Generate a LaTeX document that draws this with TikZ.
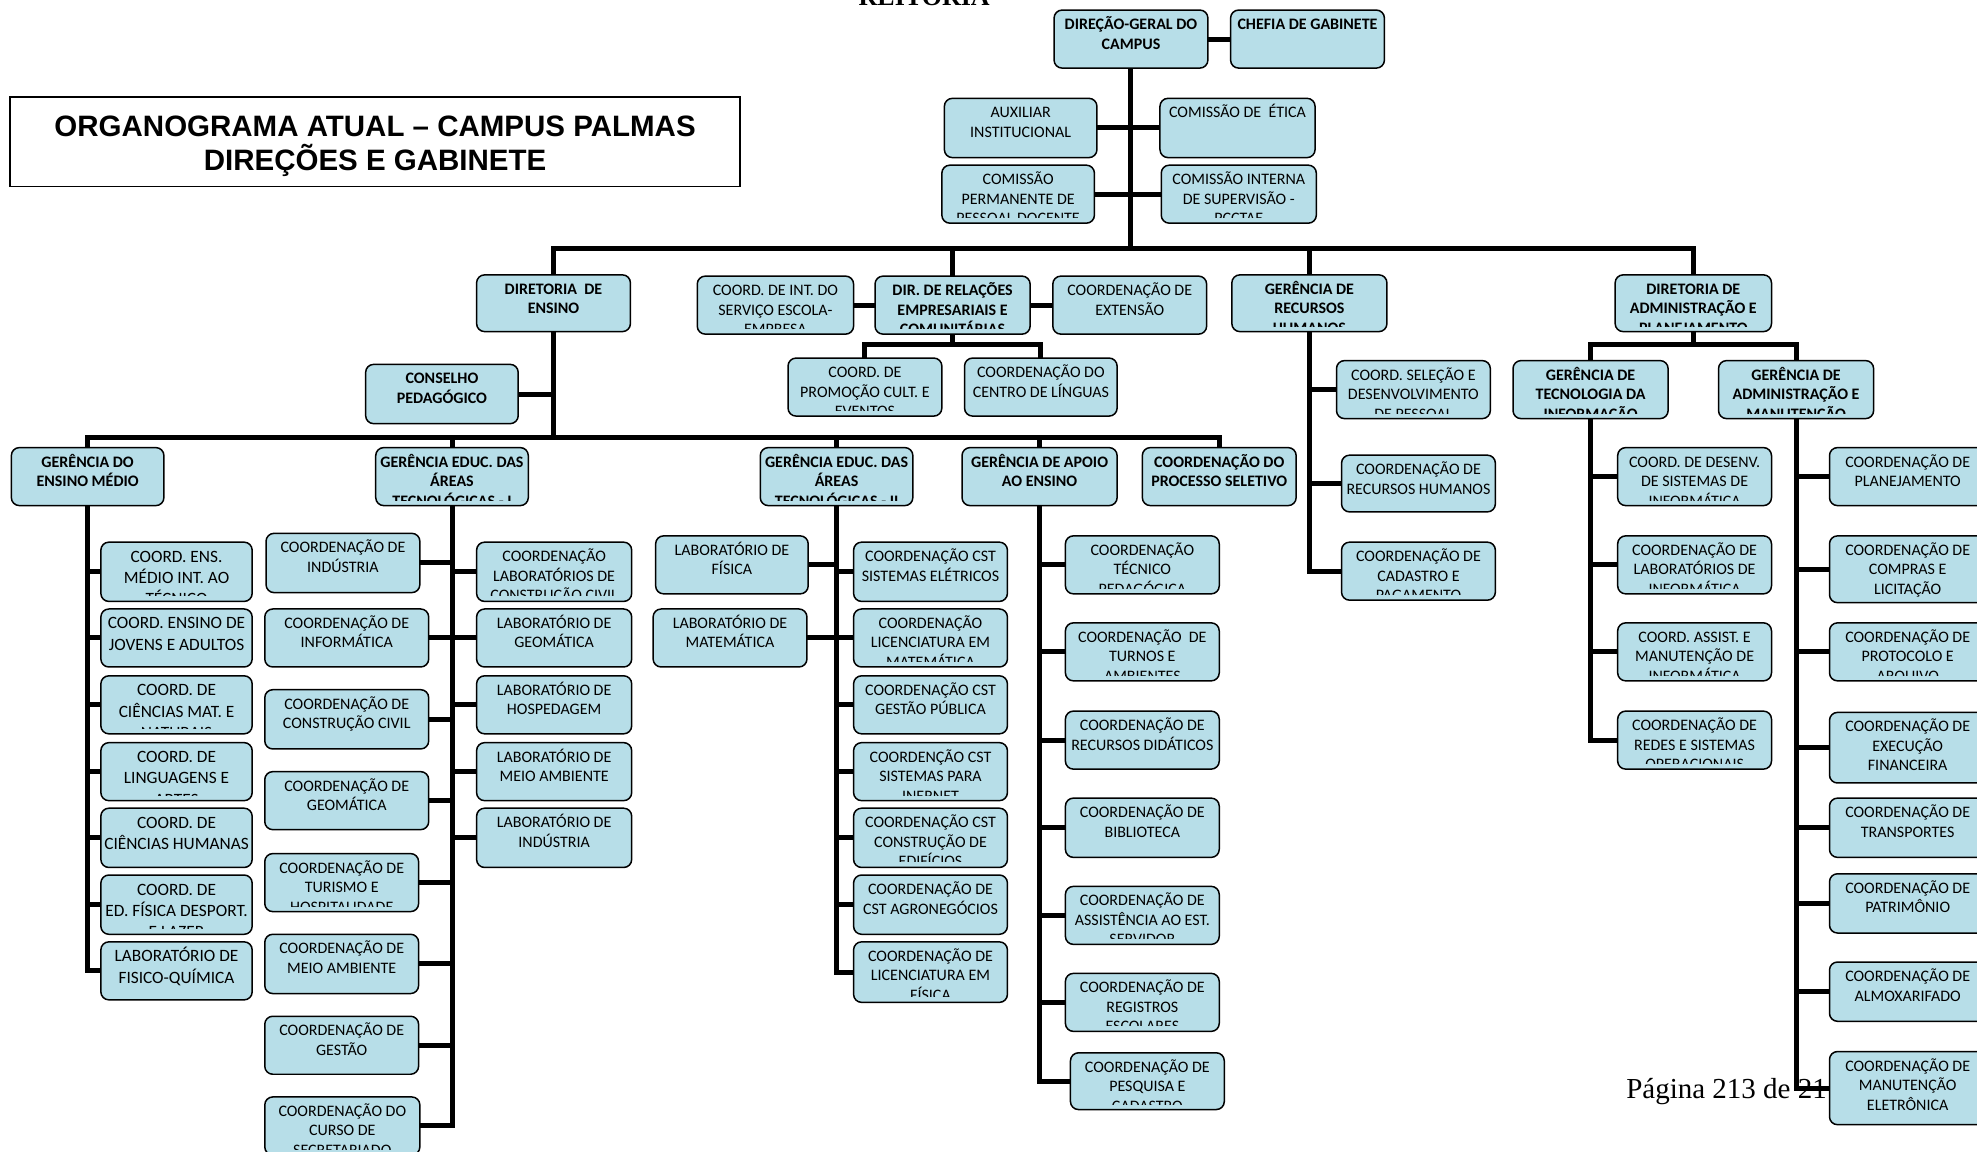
\documentclass[tikz,border=0pt]{standalone}
\usepackage{fontspec}
\setmainfont{Carlito}
\newfontfamily\titlefont{Liberation Sans}
\newfontfamily\pagefont{Liberation Serif}
\usetikzlibrary{backgrounds}
\definecolor{boxfill}{HTML}{B7DEE8}
\begin{document}
\begin{tikzpicture}[x=1.261pt, y=-1.261pt,
  cornerbox/.style n args={4}{at={({(#1+#3)/2},{(#2+#4)/2})},
    minimum width={(#3-#1)*1.261pt}, minimum height={(#4-#2)*1.261pt}},
  boxtxt/.style={anchor=north, align=center, inner sep=0pt, outer sep=0pt, draw=none, fill=none,
    minimum width=0pt, minimum height=0pt, font=\fontsize{16}{19.5}\selectfont},
  orgbase/.style={draw=black, line width=1.5pt, fill=boxfill, rounded corners=8pt, inner sep=0pt},
  org/.style={orgbase, path picture={
    \clip ([yshift=5.5pt]path picture bounding box.south west) rectangle (path picture bounding box.north east);
    \node[boxtxt] at ([yshift=-4.5pt]path picture bounding box.north) {\rule{0pt}{15pt}#1};}},
  orgl/.style={orgbase, path picture={
    \clip ([yshift=5.5pt]path picture bounding box.south west) rectangle (path picture bounding box.north east);
    \node[boxtxt, font=\fontsize{17.3}{21.3}\selectfont]
      at ([yshift=-4pt]path picture bounding box.north) {\rule{0pt}{16pt}#1};}},
  orgb/.style={orgbase, path picture={
    \clip ([yshift=5.5pt]path picture bounding box.south west) rectangle (path picture bounding box.north east);
    \node[boxtxt, font=\fontsize{16}{19.5}\selectfont\bfseries]
      at ([yshift=-4.5pt]path picture bounding box.north) {\rule{0pt}{15pt}#1};}},
  link/.style={line width=5pt, line cap=rect, line join=miter}]
  \useasboundingbox (0,0) rectangle (1568,913);

  \node[font=\pagefont\bfseries\fontsize{26}{30}\selectfont, anchor=base] (reitoria) at (733,4) {REITORIA};
  \node[font=\pagefont\fontsize{29}{34}\selectfont, anchor=base west] (pagina) at (1287,871) {Página 213 de 21};

  \node[draw=black, line width=1.5pt, inner sep=0pt, cornerbox={8}{77}{587}{148}] (titlebox) {};
  \node[font=\titlefont\bfseries\fontsize{29.5}{34}\selectfont, align=center, yshift=-4pt] (title)
    at (titlebox.center) {ORGANOGRAMA ATUAL – CAMPUS PALMAS\\DIREÇÕES E GABINETE};

  \coordinate (b1) at (897,197);
  \coordinate (b2) at (439,347);
  \coordinate (b3) at (755,273);
  \coordinate (b4) at (1343,273);

  \node[orgb={DIREÇÃO-GERAL DO\\CAMPUS}, cornerbox={836}{8}{958}{54}] (dg) {};
  \node[orgb={CHEFIA DE GABINETE}, cornerbox={976}{8}{1098}{54}] (chefia) {};
  \node[org={AUXILIAR\\INSTITUCIONAL}, cornerbox={749}{78}{870}{125}] (aux) {};
  \node[org={COMISSÃO DE~ ÉTICA}, cornerbox={920}{78}{1043}{125}] (etica) {};
  \node[org={COMISSÃO\\PERMANENTE DE\\PESSOAL DOCENTE}, cornerbox={747}{131}{868}{177}] (cppd) {};
  \node[org={COMISSÃO INTERNA\\DE SUPERVISÃO -\\PCCTAE}, cornerbox={921}{131}{1044}{177}] (cis) {};

  \node[orgb={DIRETORIA~ DE\\ENSINO}, cornerbox={378}{218}{500}{263}] (de) {};
  \node[org={COORD. DE INT. DO\\SERVIÇO ESCOLA-\\EMPRESA}, cornerbox={553}{219}{677}{265}] (coordint) {};
  \node[orgb={DIR. DE RELAÇÕES\\EMPRESARIAIS E\\COMUNITÁRIAS}, cornerbox={694}{219}{817}{265}] (dirrel) {};
  \node[org={COORDENAÇÃO DE\\EXTENSÃO}, cornerbox={835}{219}{957}{265}] (ext) {};
  \node[orgb={GERÊNCIA DE\\RECURSOS\\HUMANOS}, cornerbox={977}{218}{1100}{263}] (grh) {};
  \node[orgb={DIRETORIA DE\\ADMINISTRAÇÃO E\\PLANEJAMENTO}, cornerbox={1281}{218}{1405}{263}] (dap) {};

  \node[org={COORD. DE\\PROMOÇÃO CULT. E\\EVENTOS}, cornerbox={625}{284}{747}{330}] (promo) {};
  \node[org={COORDENAÇÃO DO\\CENTRO DE LÍNGUAS}, cornerbox={765}{284}{886}{330}] (ling) {};
  \node[orgb={CONSELHO\\PEDAGÓGICO}, cornerbox={290}{289}{411}{336}] (cons) {};

  \node[org={COORD. SELEÇÃO E\\DESENVOLVIMENTO\\DE PESSOAL}, cornerbox={1060}{286}{1182}{332}] (sel) {};
  \node[org={COORDENAÇÃO DE\\RECURSOS HUMANOS}, cornerbox={1064}{361}{1186}{406}] (crh) {};
  \node[org={COORDENAÇÃO DE\\CADASTRO E\\PAGAMENTO}, cornerbox={1064}{430}{1186}{476}] (cad) {};

  \node[orgb={GERÊNCIA DE\\TECNOLOGIA DA\\INFORMAÇÃO}, cornerbox={1200}{286}{1323}{332}] (gti) {};
  \node[orgb={GERÊNCIA DE\\ADMINISTRAÇÃO E\\MANUTENÇÃO}, cornerbox={1363}{286}{1486}{332}] (gam) {};

  \node[org={COORD. DE DESENV.\\DE SISTEMAS DE\\INFORMÁTICA}, cornerbox={1283}{355}{1405}{401}] (ti1) {};
  \node[org={COORDENAÇÃO DE\\LABORATÓRIOS DE\\INFORMÁTICA}, cornerbox={1283}{425}{1405}{471}] (ti2) {};
  \node[org={COORD. ASSIST. E\\MANUTENÇÃO DE\\INFORMÁTICA}, cornerbox={1283}{494}{1405}{540}] (ti3) {};
  \node[org={COORDENAÇÃO DE\\REDES E SISTEMAS\\OPERACIONAIS}, cornerbox={1283}{564}{1405}{610}] (ti4) {};

  \node[org={COORDENAÇÃO DE\\PLANEJAMENTO}, cornerbox={1451}{355}{1575}{401}] (am1) {};
  \node[org={COORDENAÇÃO DE\\COMPRAS E\\LICITAÇÃO}, cornerbox={1451}{425}{1575}{478}] (am2) {};
  \node[org={COORDENAÇÃO DE\\PROTOCOLO E\\ARQUIVO}, cornerbox={1451}{494}{1575}{540}] (am3) {};
  \node[org={COORDENAÇÃO DE\\EXECUÇÃO\\FINANCEIRA}, cornerbox={1451}{565}{1575}{621}] (am4) {};
  \node[org={COORDENAÇÃO DE\\TRANSPORTES}, cornerbox={1451}{633}{1575}{680}] (am5) {};
  \node[org={COORDENAÇÃO DE\\PATRIMÔNIO}, cornerbox={1451}{693}{1575}{740}] (am6) {};
  \node[org={COORDENAÇÃO DE\\ALMOXARIFADO}, cornerbox={1451}{763}{1575}{810}] (am7) {};
  \node[org={COORDENAÇÃO DE\\MANUTENÇÃO\\ELETRÔNICA}, cornerbox={1451}{834}{1575}{892}] (am8) {};

  \node[orgb={GERÊNCIA DO\\ENSINO MÉDIO}, cornerbox={9}{355}{130}{401}] (gem) {};
  \node[orgb={GERÊNCIA EDUC. DAS\\ÁREAS\\TECNOLÓGICAS - I}, cornerbox={298}{355}{419}{401}] (geat1) {};
  \node[orgb={GERÊNCIA EDUC. DAS\\ÁREAS\\TECNOLÓGICAS - II}, cornerbox={603}{355}{724}{401}] (geat2) {};
  \node[orgb={GERÊNCIA DE APOIO\\AO ENSINO}, cornerbox={763}{355}{886}{401}] (gae) {};
  \node[orgb={COORDENAÇÃO DO\\PROCESSO SELETIVO}, cornerbox={906}{355}{1028}{401}] (cps) {};

  \node[orgl={COORD. ENS.\\MÉDIO INT. AO\\TÉCNICO}, cornerbox={80}{430}{200}{477}] (em1) {};
  \node[orgl={COORD. ENSINO DE\\JOVENS E ADULTOS}, cornerbox={80}{483}{200}{529}] (em2) {};
  \node[orgl={COORD. DE\\CIÊNCIAS MAT. E\\NATURAIS}, cornerbox={80}{536}{200}{582}] (em3) {};
  \node[orgl={COORD. DE\\LINGUAGENS E\\ARTES}, cornerbox={80}{589}{200}{635}] (em4) {};
  \node[orgl={COORD. DE\\CIÊNCIAS HUMANAS}, cornerbox={80}{641}{200}{688}] (em5) {};
  \node[orgl={COORD. DE\\ED. FÍSICA DESPORT.\\E LAZER}, cornerbox={80}{694}{200}{741}] (em6) {};
  \node[orgl={LABORATÓRIO DE\\FISICO-QUÍMICA}, cornerbox={80}{747}{200}{793}] (em7) {};

  \node[org={COORDENAÇÃO DE\\INDÚSTRIA}, cornerbox={211}{423}{333}{470}] (t1) {};
  \node[org={COORDENAÇÃO DE\\INFORMÁTICA}, cornerbox={210}{483}{340}{529}] (t2) {};
  \node[org={COORDENAÇÃO DE\\CONSTRUÇÃO CIVIL}, cornerbox={210}{547}{340}{594}] (t3) {};
  \node[org={COORDENAÇÃO DE\\GEOMÁTICA}, cornerbox={210}{612}{340}{658}] (t4) {};
  \node[org={COORDENAÇÃO DE\\TURISMO E\\HOSPITALIDADE}, cornerbox={210}{677}{332}{723}] (t5) {};
  \node[org={COORDENAÇÃO DE\\MEIO AMBIENTE}, cornerbox={210}{741}{332}{788}] (t6) {};
  \node[org={COORDENAÇÃO DE\\GESTÃO}, cornerbox={210}{806}{332}{852}] (t7) {};
  \node[org={COORDENAÇÃO DO\\CURSO DE\\SECRETARIADO}, cornerbox={210}{870}{333}{916}] (t8) {};

  \node[org={COORDENAÇÃO\\LABORATÓRIOS DE\\CONSTRUÇÃO CIVIL}, cornerbox={378}{430}{501}{477}] (r1) {};
  \node[org={LABORATÓRIO DE\\GEOMÁTICA}, cornerbox={378}{483}{501}{529}] (r2) {};
  \node[org={LABORATÓRIO DE\\HOSPEDAGEM}, cornerbox={378}{536}{501}{582}] (r3) {};
  \node[org={LABORATÓRIO DE\\MEIO AMBIENTE}, cornerbox={378}{589}{501}{635}] (r4) {};
  \node[org={LABORATÓRIO DE\\INDÚSTRIA}, cornerbox={378}{641}{501}{688}] (r5) {};

  \node[org={LABORATÓRIO DE\\FÍSICA}, cornerbox={520}{425}{641}{471}] (l1) {};
  \node[org={LABORATÓRIO DE\\MATEMÁTICA}, cornerbox={518}{483}{640}{529}] (l2) {};

  \node[org={COORDENAÇÃO CST\\SISTEMAS ELÉTRICOS}, cornerbox={677}{430}{799}{477}] (s1) {};
  \node[org={COORDENAÇÃO\\LICENCIATURA EM\\MATEMÁTICA}, cornerbox={677}{483}{799}{529}] (s2) {};
  \node[org={COORDENAÇÃO CST\\GESTÃO PÚBLICA}, cornerbox={677}{536}{799}{582}] (s3) {};
  \node[org={COORDENÇÃO CST\\SISTEMAS PARA\\INERNET}, cornerbox={677}{589}{799}{635}] (s4) {};
  \node[org={COORDENAÇÃO CST\\CONSTRUÇÃO DE\\EDIFÍCIOS}, cornerbox={677}{641}{799}{688}] (s5) {};
  \node[org={COORDENAÇÃO DE\\CST AGRONEGÓCIOS}, cornerbox={677}{694}{799}{741}] (s6) {};
  \node[org={COORDENAÇÃO DE\\LICENCIATURA EM\\FÍSICA}, cornerbox={677}{747}{799}{795}] (s7) {};

  \node[org={COORDENAÇÃO\\TÉCNICO\\PEDAGÓGICA}, cornerbox={845}{425}{967}{471}] (a1) {};
  \node[org={COORDENAÇÃO~ DE\\TURNOS E\\AMBIENTES}, cornerbox={845}{494}{967}{540}] (a2) {};
  \node[org={COORDENAÇÃO DE\\RECURSOS DIDÁTICOS}, cornerbox={845}{564}{967}{610}] (a3) {};
  \node[org={COORDENAÇÃO DE\\BIBLIOTECA}, cornerbox={845}{633}{967}{680}] (a4) {};
  \node[org={COORDENAÇÃO DE\\ASSISTÊNCIA AO EST.\\SERVIDOR}, cornerbox={845}{703}{967}{749}] (a5) {};
  \node[org={COORDENAÇÃO DE\\REGISTROS\\ESCOLARES}, cornerbox={845}{772}{967}{818}] (a6) {};
  \node[org={COORDENAÇÃO DE\\PESQUISA E\\CADASTRO}, cornerbox={849}{835}{971}{880}] (a7) {};

  \begin{pgfonlayer}{background}
  \draw[link] (dg.east) -- (chefia.west);
  \draw[link] (dg.south) -- (dg.south |- b1);
  \draw[link] (aux.east) -- (etica.west);
  \draw[link] (cppd.east) -- (cis.west);
  \draw[link] (de.north) -- (de.north |- b1) -- (dap.north |- b1) -- (dap.north);
  \draw[link] (dirrel.north |- b1) -- (dirrel.north) (grh.north |- b1) -- (grh.north);
  \draw[link] (coordint.east) -- (dirrel.west) (dirrel.east) -- (ext.west);
  \draw[link] (dirrel.south) -- (dirrel.south |- b3);
  \draw[link] (promo.north) -- (promo.north |- b3) -- (ling.north |- b3) -- (ling.north);
  \draw[link] (dap.south) -- (dap.south |- b4);
  \draw[link] (gti.north) -- (gti.north |- b4) -- (gam.north |- b4) -- (gam.north);

  \draw[link] (grh.south) -- (grh.south |- cad.west) -- (cad.west)
    (grh.south |- sel.west) -- (sel.west) (grh.south |- crh.west) -- (crh.west);
  \draw[link] (gti.south) -- (gti.south |- ti4.west) -- (ti4.west)
    (gti.south |- ti1.west) -- (ti1.west) (gti.south |- ti2.west) -- (ti2.west)
    (gti.south |- ti3.west) -- (ti3.west);
  \draw[link] (gam.south) -- (gam.south |- am8.west) -- (am8.west)
    (gam.south |- am1.west) -- (am1.west) (gam.south |- am2.west) -- (am2.west)
    (gam.south |- am3.west) -- (am3.west) (gam.south |- am4.west) -- (am4.west)
    (gam.south |- am5.west) -- (am5.west) (gam.south |- am6.west) -- (am6.west)
    (gam.south |- am7.west) -- (am7.west);

  \draw[link] (de.south) -- (de.south |- b2);
  \draw[link] (cons.east) -- (cons.east -| de.south);
  \draw[link] (gem.north) -- (gem.north |- b2) -- (cps.north |- b2) -- (cps.north);
  \draw[link] (geat1.north |- b2) -- (geat1.north) (geat2.north |- b2) -- (geat2.north)
    (gae.north |- b2) -- (gae.north);

  \draw[link] (gem.south) -- (gem.south |- em7.west) -- (em7.west)
    (gem.south |- em1.west) -- (em1.west) (gem.south |- em2.west) -- (em2.west)
    (gem.south |- em3.west) -- (em3.west) (gem.south |- em4.west) -- (em4.west)
    (gem.south |- em5.west) -- (em5.west) (gem.south |- em6.west) -- (em6.west);

  \draw[link] (geat1.south) -- (geat1.south |- t8.east) -- (t8.east)
    (t1.east) -- (t1.east -| geat1.south) (t2.east) -- (t2.east -| geat1.south)
    (t3.east) -- (t3.east -| geat1.south) (t4.east) -- (t4.east -| geat1.south)
    (t5.east) -- (t5.east -| geat1.south) (t6.east) -- (t6.east -| geat1.south)
    (t7.east) -- (t7.east -| geat1.south);
  \draw[link] (geat1.south |- r1.west) -- (r1.west) (geat1.south |- r2.west) -- (r2.west)
    (geat1.south |- r3.west) -- (r3.west) (geat1.south |- r4.west) -- (r4.west)
    (geat1.south |- r5.west) -- (r5.west);

  \draw[link] (geat2.south) -- (geat2.south |- s7.west) -- (s7.west)
    (l1.east) -- (l1.east -| geat2.south) (l2.east) -- (l2.east -| geat2.south)
    (geat2.south |- s1.west) -- (s1.west) (geat2.south |- s2.west) -- (s2.west)
    (geat2.south |- s3.west) -- (s3.west) (geat2.south |- s4.west) -- (s4.west)
    (geat2.south |- s5.west) -- (s5.west) (geat2.south |- s6.west) -- (s6.west);

  \draw[link] (gae.south) -- (gae.south |- a7.west) -- (a7.west)
    (gae.south |- a1.west) -- (a1.west) (gae.south |- a2.west) -- (a2.west)
    (gae.south |- a3.west) -- (a3.west) (gae.south |- a4.west) -- (a4.west)
    (gae.south |- a5.west) -- (a5.west) (gae.south |- a6.west) -- (a6.west);
  \end{pgfonlayer}
\end{tikzpicture}
\end{document}
